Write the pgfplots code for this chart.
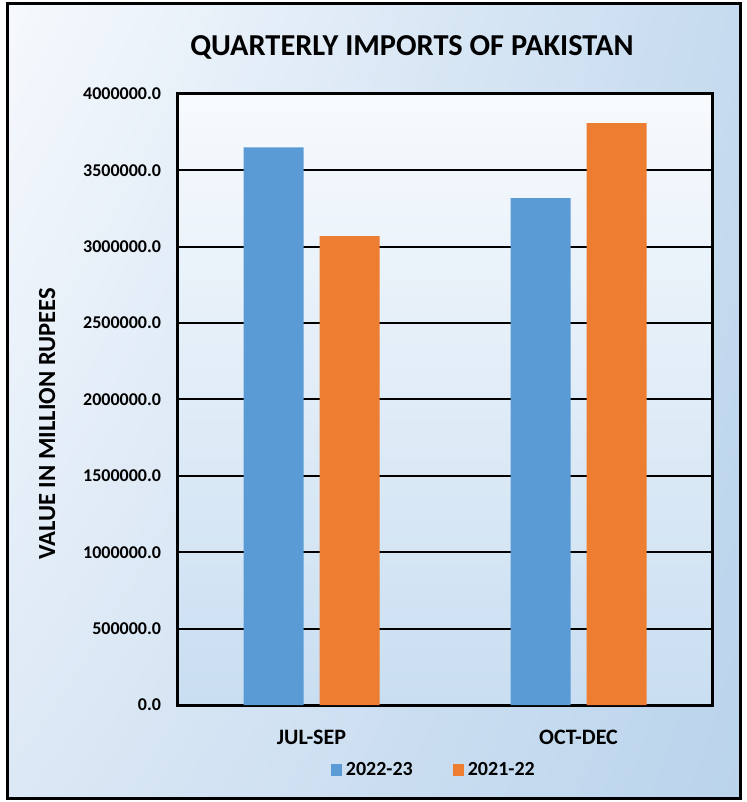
\documentclass[border=0pt]{standalone}
\usepackage{fontspec}
\setmainfont{Carlito}
\usepackage{pgfplots}
\usetikzlibrary{shadings}
\pgfplotsset{compat=1.18}
\definecolor{barblue}{HTML}{5B9BD5}
\definecolor{barorange}{HTML}{ED7D31}
\definecolor{bgTL}{HTML}{F6F9FD}
\definecolor{bgTR}{HTML}{C6DBEF}
\definecolor{bgBL}{HTML}{DCE8F5}
\definecolor{bgBR}{HTML}{BAD4EC}
\definecolor{paTop}{HTML}{F7FAFD}
\definecolor{paBot}{HTML}{C9DEF1}
\begin{document}
\begin{tikzpicture}
\useasboundingbox (-89pt,-48.5pt) rectangle (284pt,352.5pt);
\shade[upper left=bgTL, upper right=bgTR, lower left=bgBL, lower right=bgBR] (-85pt,-46.5pt) rectangle (281pt,350.5pt);
\draw[line width=1.5pt] (-85pt,-46.5pt) rectangle (281pt,350.5pt);
\begin{axis}[
  at={(0pt,0pt)}, anchor=south west,
  scale only axis, width=267pt, height=305.5pt,
  ybar,
  xmin=-0.5, xmax=1.5, ymin=0, ymax=4000000,
  xtick={0,1}, xticklabels={JUL-SEP,OCT-DEC},
  ytick={0,500000,...,4000000},
  scaled y ticks=false,
  tick label style={font=\fontsize{9}{11}\selectfont\bfseries},
  yticklabel style={xshift=-5pt, /pgf/number format/.cd, fixed, fixed zerofill, precision=1, 1000 sep={}, assume math mode=true},
  xticklabel style={yshift=-9pt, font=\fontsize{11}{13}\selectfont\bfseries},
  major tick length=0pt,
  ymajorgrids, grid style={black, line width=1pt},
  axis line style={line width=1.5pt},
  axis background/.style={top color=paTop, bottom color=paBot},
  title={QUARTERLY IMPORTS OF PAKISTAN},
  title style={at={(axis description cs:0.438,1)}, anchor=center, yshift=17.5pt, font=\fontsize{15.2}{17}\selectfont\bfseries},
  ylabel={VALUE IN MILLION RUPEES},
  ylabel style={at={(axis description cs:-0.245,0.46)}, anchor=center, font=\fontsize{12.3}{14}\selectfont\bfseries},
  legend columns=2,
  legend style={at={(axis description cs:0.481,0)}, anchor=center, yshift=-32.5pt, draw=none, fill=none, font=\fontsize{10}{12}\selectfont\bfseries, /tikz/every even column/.append style={column sep=18pt}},
  legend image code/.code={\fill[#1] (0pt,-3pt) rectangle (5.5pt,3pt);},
]
\addplot[fill=barblue, draw=none, bar width=30pt, bar shift=-19pt] coordinates {(0,3650000) (1,3318000)};
\addplot[fill=barorange, draw=none, bar width=30pt, bar shift=19pt] coordinates {(0,3070000) (1,3810000)};
\legend{2022-23,2021-22}
\end{axis}
\end{tikzpicture}
\end{document}
